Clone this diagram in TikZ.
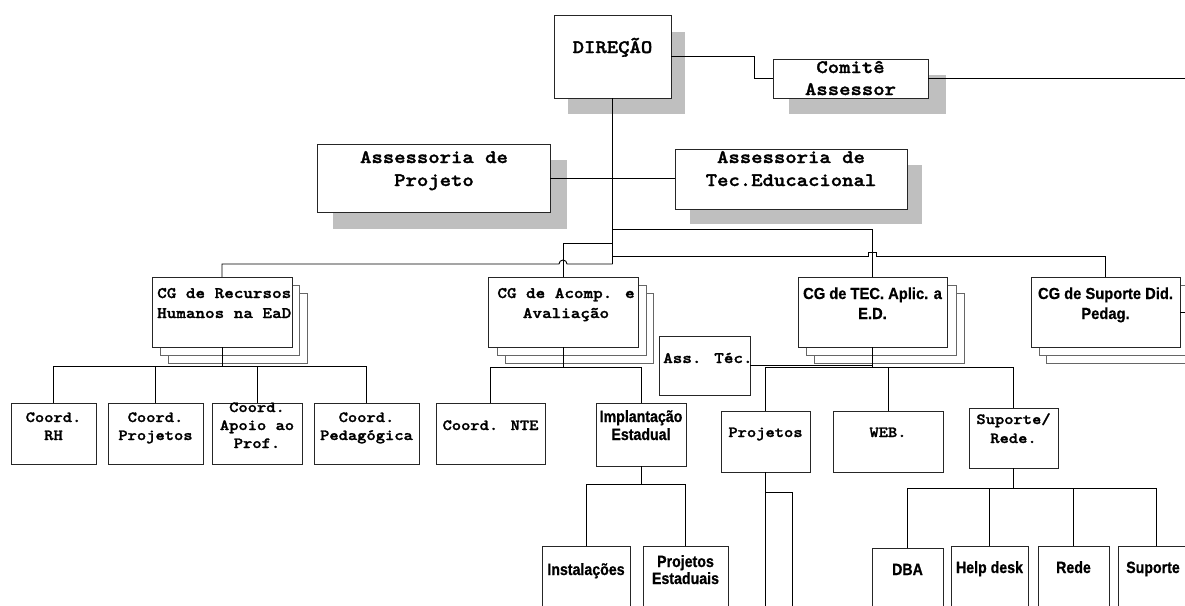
\documentclass[tikz,border=0pt]{standalone}
\usepackage{fontspec}
\setmainfont{Liberation Sans}
\newfontfamily\cour{lmmonolt10-bold.otf}[FakeStretch=1.14,FakeBold=1.6]
\newfontfamily\sansa{LiberationSans-Bold.ttf}[FakeStretch=0.92,FakeBold=0.6]
\newfontfamily\sansb{LiberationSans-Bold.ttf}[FakeStretch=0.87,FakeBold=0.8]
\newcommand\bxn[6][bx]{\node[#1,minimum width={#5-#3},minimum height={#6-#4}] (#2) at ({(#3+#5)/2},{(#4+#6)/2}) {};}
\newcommand\stk[4]{\draw[stkline] (#1,#2) rectangle (#3,#4);}
\tikzset{
  bx/.style={draw=black!85, fill=white, line width=0.9pt, inner sep=0pt, outer sep=0pt},
  stkline/.style={draw=black!60, fill=white, line width=0.9pt},
  shd/.style={fill=black!25},
  ln/.style={draw=black, line width=0.9pt},
  mbig/.style={font=\cour\fontsize{19}{23}\selectfont, inner sep=0pt, anchor=base},
  mmid/.style={font=\cour\fontsize{16}{20}\selectfont, inner sep=0pt, anchor=base},
  msm/.style={font=\cour\fontsize{15.5}{18}\selectfont, inner sep=0pt, anchor=base},
  sbig/.style={font=\sansa\fontsize{16}{20}\selectfont, inner sep=0pt, anchor=base},
  ssm/.style={font=\sansb\fontsize{16.3}{18}\selectfont, inner sep=0pt, anchor=base},
}
\begin{document}
\begin{tikzpicture}[x=1pt,y=-1pt]
\useasboundingbox (0,0) rectangle (1185,605);
\clip (0,0) rectangle (1185,605);
\fill[white] (0,0) rectangle (1185,605);
% shadows
\fill[shd] (568,32) rectangle (685,114);
\fill[shd] (789,75) rectangle (946,114);
\fill[shd] (333,160) rectangle (567,229);
\fill[shd] (690,165) rectangle (922,224);
% top boxes
\bxn{dir}{554}{15}{671}{98}
\bxn{com}{773}{59}{928}{98}
\bxn{ap}{317}{144}{550}{212}
\bxn{at}{675}{149}{907}{209}
% stacked CG boxes
\stk{168}{293}{307}{363}\stk{160}{285}{299}{355}
\bxn{rec}{152}{277}{292}{347}
\stk{505}{293}{653}{363}\stk{497}{285}{646}{355}
\bxn{acomp}{488}{277}{638}{347}
\stk{814}{293}{964}{363}\stk{806}{285}{956}{355}
\bxn{tec}{798}{277}{947}{347}
\stk{1046}{293}{1195}{363}\stk{1039}{285}{1188}{355}
\bxn{sup}{1031}{277}{1180}{347}
% lower boxes
\bxn{rh}{11}{403}{96}{464}
\bxn{cproj}{108}{403}{203}{464}
\bxn{apoio}{212}{403}{302}{464}
\bxn{ped}{314}{403}{419}{464}
\bxn{nte}{436}{403}{545}{464}
\bxn{impl}{596}{403}{686}{466}
\bxn{ass}{659}{336}{750}{395}
\bxn{projs}{721}{411}{810}{472}
\bxn{web}{833}{411}{943}{472}
\bxn{srede}{969}{408}{1058}{468}
\bxn{inst}{542}{546}{630}{620}
\bxn{pe}{643}{546}{728}{620}
\bxn{dba}{872}{548}{943}{620}
\bxn{help}{951}{546}{1028}{620}
\bxn{rede}{1038}{546}{1109}{620}
\bxn{suporte}{1118}{546}{1194}{620}
% texts
\node[mbig] (tdir) at (612.5,53) {DIREÇÃO};
\node[mbig] (tcom1) at (850.5,73) {Comitê};
\node[mbig] (tcom2) at (850.5,95) {Assessor};
\node[mbig] (tap1) at (434,163) {Assessoria de};
\node[mbig] (tap2) at (434,186) {Projeto};
\node[mbig] (tat1) at (791,163) {Assessoria de};
\node[mbig] (tat2) at (791,186) {Tec.Educacional};
\node[mmid,anchor=base west] (trec1) at (157,298) {CG de Recursos};
\node[mmid,anchor=base west] (trec2) at (157,318) {Humanos na EaD};
\node[mmid] (tac1) at (566,298) {CG de Acomp. e};
\node[mmid] (tac2) at (566,318) {Avaliação};
\node[sbig] (ttec1) at (872.5,299) {CG de TEC. Aplic. a};
\node[sbig] (ttec2) at (872.5,319) {E.D.};
\node[sbig] (tsup1) at (1105.5,299) {CG de Suporte Did.};
\node[sbig] (tsup2) at (1105.5,319) {Pedag.};
\node[msm] (trh1) at (53.5,422) {Coord.};
\node[msm] (trh2) at (53.5,440) {RH};
\node[msm] (tcp1) at (155.5,422) {Coord.};
\node[msm] (tcp2) at (155.5,440) {Projetos};
\node[msm] (tapo1) at (257,412) {Coord.};
\node[msm] (tapo2) at (257,430) {Apoio ao};
\node[msm] (tapo3) at (257,448) {Prof.};
\node[msm] (tped1) at (366.5,422) {Coord.};
\node[msm] (tped2) at (366.5,440) {Pedagógica};
\node[msm] (tnte) at (490.5,430) {Coord. NTE};
\node[mmid,anchor=base west] (tass) at (663,363) {Ass. Téc.};
\node[ssm] (timp1) at (641,422) {Implantação};
\node[ssm] (timp2) at (641,440) {Estadual};
\node[msm] (tprojs) at (765.5,437) {Projetos};
\node[msm] (tweb) at (888,437) {WEB.};
\node[msm] (tsr1) at (1013.5,424) {Suporte/};
\node[msm] (tsr2) at (1013.5,443) {Rede.};
\node[ssm] (tinst) at (586,575) {Instalações};
\node[ssm] (tpe1) at (685.5,567) {Projetos};
\node[ssm] (tpe2) at (685.5,584) {Estaduais};
\node[ssm] (tdba) at (907.5,575) {DBA};
\node[ssm] (thelp) at (989.5,573) {Help desk};
\node[ssm] (trede) at (1073.5,573) {Rede};
\node[ssm,anchor=base west] (tsuporte) at (1126,573) {Suporte};
% connectors
\coordinate (eC) at (1190,78.5);
\coordinate (j229) at (612.5,229);
\coordinate (j243) at (612.5,243);
\coordinate (j256) at (612.5,256);
\coordinate (j264) at (612.5,264);
\draw[ln] (dir.east) -- ++(83,0) |- (com.west);
\draw[ln] (com.east) -- (eC);
\draw[ln] (dir.south) -- (j264);
\draw[ln] (ap.east) -- (ap.east -| at.west);
\draw[ln] (j229) -| (tec.north);
\draw[ln] (j243) -| (acomp.north);
\draw[ln] (rec.north) |- (559,264) arc[start angle=180,end angle=0,radius=4pt] -- (j264);
\draw[ln] (j256) -- (868.5,256) -- (868.5,252) -- (876.5,252) -- (876.5,256) -| (sup.north);
% CG Recursos children
\coordinate (r1) at (222,366);
\draw[ln] (rec.south) -- (r1);
\draw[ln] (rh.north) -- (rh.north |- r1) -- (ped.north |- r1) -- (ped.north);
\draw[ln] (cproj.north) -- (cproj.north |- r1);
\draw[ln] (apoio.north) -- (apoio.north |- r1);
% CG Acomp children
\coordinate (a1) at (563,367);
\draw[ln] (acomp.south) -- (a1);
\draw[ln] (nte.north) -- (nte.north |- a1) -- (impl.north |- a1) -- (impl.north);
% Ass Tec
\draw[ln] (ass.east) -- (ass.east -| tec.south);
% CG TEC children
\coordinate (t1) at (872.5,367);
\draw[ln] (tec.south) -- (t1);
\draw[ln] (projs.north) -- (projs.north |- t1) -- (srede.north |- t1) -- (srede.north);
\draw[ln] (web.north) -- (web.north |- t1);
% Implantacao children
\coordinate (i1) at (641,484);
\draw[ln] (impl.south) -- (i1);
\draw[ln] (inst.north) -- (inst.north |- i1) -- (pe.north |- i1) -- (pe.north);
% Projetos
\coordinate (pB) at (765.5,615);
\coordinate (p1) at (765.5,492);
\coordinate (pB2) at (792,615);
\draw[ln] (projs.south) -- (pB);
\draw[ln] (p1) -| (pB2);
% Suporte/Rede children
\coordinate (s1) at (1013.5,488);
\draw[ln] (srede.south) -- (s1);
\draw[ln] (dba.north) -- (dba.north |- s1) -- (suporte.north |- s1) -- (suporte.north);
\draw[ln] (help.north) -- (help.north |- s1);
\draw[ln] (rede.north) -- (rede.north |- s1);
% CG Suporte right
\coordinate (eS) at (1190,312);
\draw[ln] (sup.east) -- (eS);
\end{tikzpicture}
\end{document}
